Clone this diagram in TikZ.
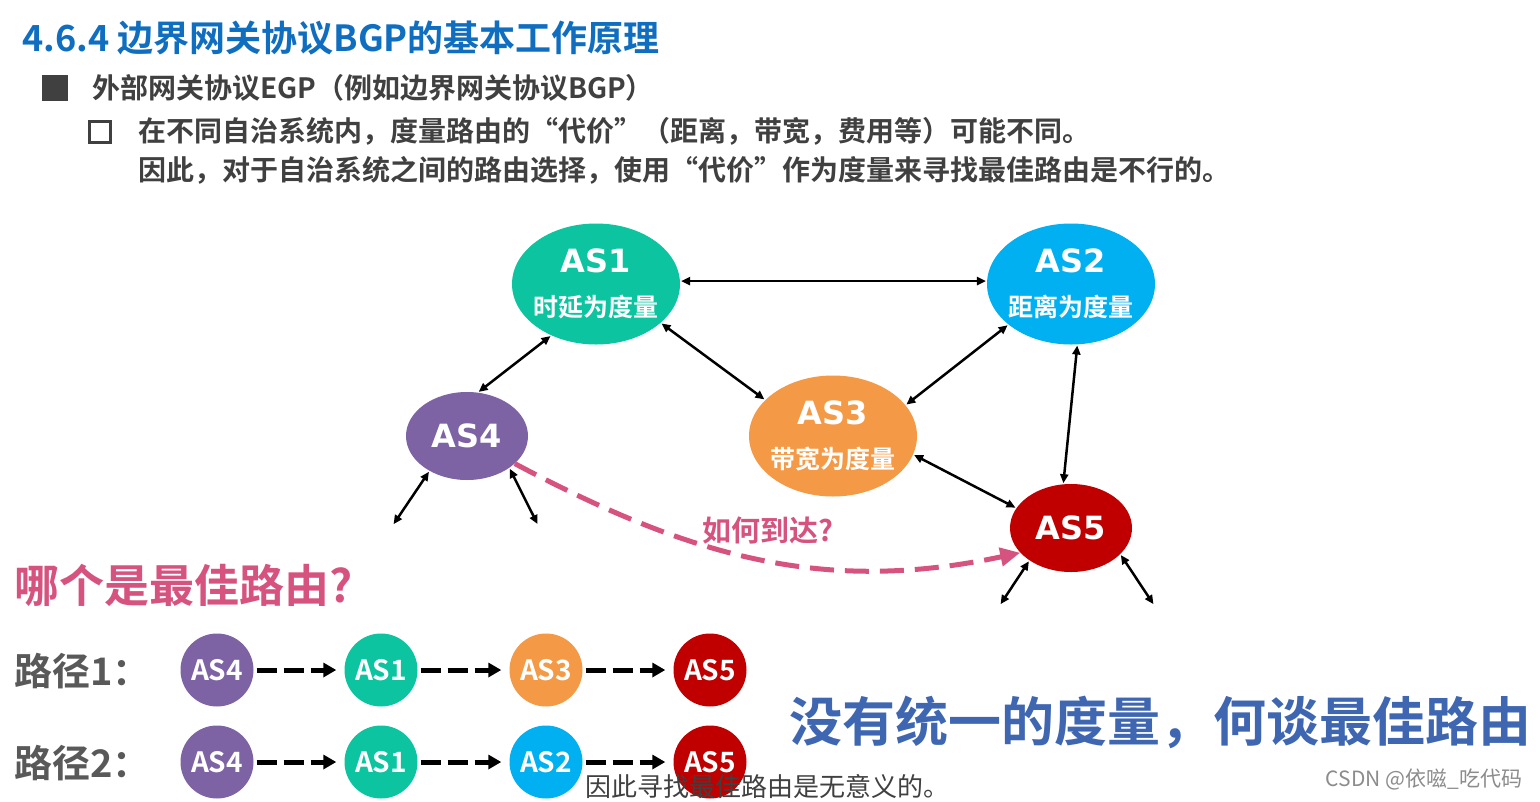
\documentclass[tikz,border=0pt]{standalone}
\usepackage{fontspec}
\setmainfont{Noto Sans CJK SC}[BoldFont={Noto Sans CJK SC Bold}]
\newfontfamily\asfont{DejaVu Sans}
\usetikzlibrary{arrows.meta,shapes.geometric}
\definecolor{titleblue}{RGB}{16,110,192}
\definecolor{bodygrey}{RGB}{64,64,64}
\definecolor{labelgrey}{RGB}{89,89,89}
\definecolor{asteal}{RGB}{13,196,160}
\definecolor{asblue}{RGB}{0,176,240}
\definecolor{asorange}{RGB}{244,154,70}
\definecolor{aspurple}{RGB}{125,98,164}
\definecolor{asred}{RGB}{192,0,0}
\definecolor{pinkline}{RGB}{214,83,127}
\definecolor{sloganblue}{RGB}{62,102,177}
\tikzset{
  asbig/.style={ellipse, minimum width=168pt, minimum height=121pt, inner xsep=-8pt, inner ysep=0pt, align=center, text=white, font=\bfseries\fontsize{25}{44}\selectfont},
  assmall/.style={ellipse, minimum width=122pt, minimum height=88pt, inner sep=0pt, text=white, font=\asfont\bfseries\fontsize{32}{32}\selectfont},
  link/.style={{Triangle[length=9pt,width=8pt]}-{Triangle[length=9pt,width=8pt]}, line width=2.5pt, shorten <=1pt, shorten >=1pt},
  howto/.style={-{Triangle[length=20pt,width=18pt]}, line width=5pt, dash pattern=on 24pt off 11pt, draw=pinkline},
  hopdot/.style={circle, minimum size=73pt, inner sep=0pt, text=white, font=\bfseries\fontsize{28}{28}\selectfont},
  hop/.style={-{Triangle[length=13pt,width=14pt]}, line width=5pt, dash pattern=on 20pt off 7pt, shorten <=3pt, shorten >=8pt},
  plain/.style={inner sep=0pt, anchor=west}
}
\begin{document}
\begin{tikzpicture}[x=1pt, y=-1pt]
\useasboundingbox[fill=white] (0,0) rectangle (1540,801);
% heading and bullet text
\node[plain, text=titleblue, font=\bfseries\fontsize{36}{36}\selectfont] (title) at (22,38) {4.6.4 边界网关协议BGP的基本工作原理};
\node[fill=bodygrey, minimum size=26pt, inner sep=0pt] (bul1) at (55,88) {};
\node[plain, text=bodygrey, font=\bfseries\fontsize{28}{28}\selectfont] (egp) at (92,88) {外部网关协议EGP（例如边界网关协议BGP）};
\node[draw=bodygrey, line width=2.5pt, minimum size=21pt, inner sep=0pt] (bul2) at (100,132) {};
\node[plain, text=bodygrey, font=\bfseries\fontsize{28}{28}\selectfont] (rule1) at (138,131) {在不同自治系统内，度量路由的“代价”（距离，带宽，费用等）可能不同。};
\node[plain, text=bodygrey, font=\bfseries\fontsize{28}{28}\selectfont] (rule2) at (138,170) {因此，对于自治系统之间的路由选择，使用“代价”作为度量来寻找最佳路由是不行的。};
% autonomous systems
\node[asbig, fill=asteal] (as1) at (596,284) {{\asfont\fontsize{32}{44}\selectfont AS1}\\时延为度量};
\node[asbig, fill=asblue] (as2) at (1071,284) {{\asfont\fontsize{32}{44}\selectfont AS2}\\距离为度量};
\node[asbig, fill=asorange] (as3) at (833,436) {{\asfont\fontsize{32}{44}\selectfont AS3}\\带宽为度量};
\node[assmall, fill=aspurple] (as4) at (467,436) {AS4};
\node[assmall, fill=asred] (as5) at (1071,528) {AS5};
\coordinate (s4a) at (393,525);
\coordinate (s4b) at (538,525);
\coordinate (s5a) at (1000,605);
\coordinate (s5b) at (1154,605);
\draw[link] (as1.2) -- (as2.178);
\draw[link] (as1.229) -- (as4.76);
\draw[link] (as1.329) -- (as3.152);
\draw[link] (as2.213) -- (as3.23);
\draw[link] (as2.276) -- (as5.100);
\draw[link] (as3.347) -- (as5.160);
\draw[link] (as4.223) -- (s4a);
\draw[link] (as4.323) -- (s4b);
\draw[link] (as5.218) -- (s5a);
\draw[link] (as5.332) -- (s5b);
\draw[howto] (as4.330) to[out=-28, in=192] (as5.206);
\node[text=pinkline, font=\bfseries\fontsize{29}{29}\selectfont, inner sep=0pt] (ask) at (768,531) {如何到达?};
% candidate paths
\node[plain, text=pinkline, font=\bfseries\fontsize{45}{45}\selectfont] (best) at (14,585) {哪个是最佳路由?};
\node[plain, text=labelgrey, font=\bfseries\fontsize{38}{38}\selectfont] (path1) at (14,671) {路径1：};
\node[plain, text=labelgrey, font=\bfseries\fontsize{38}{38}\selectfont] (path2) at (14,763) {路径2：};
\node[hopdot, fill=aspurple] (p1a) at (217,670) {AS4};
\node[hopdot, fill=asteal] (p1b) at (381,670) {AS1};
\node[hopdot, fill=asorange] (p1c) at (546,670) {AS3};
\node[hopdot, fill=asred] (p1d) at (710,670) {AS5};
\node[hopdot, fill=aspurple] (p2a) at (217,762) {AS4};
\node[hopdot, fill=asteal] (p2b) at (381,762) {AS1};
\node[hopdot, fill=asblue] (p2c) at (546,762) {AS2};
\node[hopdot, fill=asred] (p2d) at (710,762) {AS5};
\draw[hop] (p1a) -- (p1b);
\draw[hop] (p1b) -- (p1c);
\draw[hop] (p1c) -- (p1d);
\draw[hop] (p2a) -- (p2b);
\draw[hop] (p2b) -- (p2c);
\draw[hop] (p2c) -- (p2d);
% conclusion
\node[text=sloganblue, font=\bfseries\fontsize{53}{53}\selectfont, inner sep=0pt] (slogan) at (1160,722) {没有统一的度量，何谈最佳路由};
\node[text=bodygrey, font=\fontsize{26}{26}\selectfont, inner sep=0pt] (sub) at (767,787) {因此寻找最佳路由是无意义的。};
\node[text=black!45, font=\fontsize{21}{21}\selectfont, inner sep=0pt] (wm) at (1424,779) {CSDN @依嗞\_吃代码};
\end{tikzpicture}
\end{document}
